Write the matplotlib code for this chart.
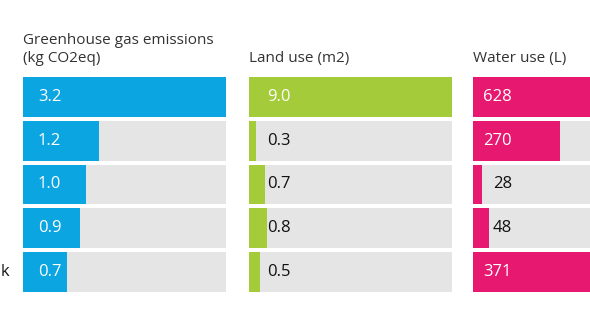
import matplotlib.pyplot as plt

plt.rcParams['font.family'] = ['Open Sans', 'DejaVu Sans']

# data
ghg = [3.2, 1.2, 1.0, 0.9, 0.7]
land = [9.0, 0.3, 0.7, 0.8, 0.5]
water = [628, 270, 28, 48, 371]
ghg_labels = ["3.2", "1.2", "1.0", "0.9", "0.7"]
land_labels = ["9.0", "0.3", "0.7", "0.8", "0.5"]
water_labels = ["628", "270", "28", "48", "371"]
titles = ["Greenhouse gas emissions\n(kg CO2eq)", "Land use (m2)", "Water use (L)"]
row_label = "k"

W, H = 590, 332
fig = plt.figure(figsize=(W / 100, H / 100), dpi=100)
fig.patch.set_facecolor("white")

colors = ["#0ba5e2", "#a4cb39", "#e6186f"]
grey = "#e5e5e5"
lefts = [23, 249, 473]      # panel left edge, px
panel_w = 203
top, bottom = 77, 292
white_off = [15, 18, 10]    # label offset in px when inside the bar
black_off = [15, 18, 20]

panels = [(ghg, ghg_labels), (land, land_labels), (water, water_labels)]

for k, (vals, labs) in enumerate(panels):
    ax = fig.add_axes([lefts[k] / W, (H - bottom) / H, panel_w / W, (bottom - top) / H])
    ax.set_axis_off()
    n = len(vals)
    ys = list(range(n))
    vmax = max(vals)
    ax.barh(ys, [vmax] * n, height=40 / 44, color=grey, linewidth=0)
    ax.barh(ys, vals, height=40 / 44, color=colors[k], linewidth=0)
    ax.set_xlim(0, vmax)
    ax.set_ylim(n - 1 + 0.5 * 40 / 44, -0.5 * 40 / 44)
    for i, (v, s) in enumerate(zip(vals, labs)):
        inside = v / vmax > 0.2
        off = white_off[k] if inside else black_off[k]
        ax.annotate(s, xy=(0, i), xytext=(off * 0.72, 0), textcoords="offset points",
                    va="center", ha="left", fontsize=12,
                    color="white" if inside else "#111111")
    fig.text(lefts[k] / W, (H - 62) / H, titles[k], ha="left", va="baseline",
             fontsize=11, color="#333333", linespacing=1.3)

fig.text(9 / W, (H - 272) / H, row_label, ha="right", va="center",
         fontsize=12, color="#111111")

fig.savefig("out.png", dpi=100, facecolor="white")
